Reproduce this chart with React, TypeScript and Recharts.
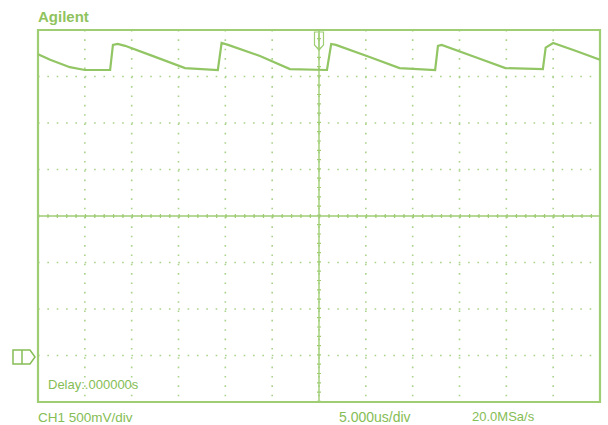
import React from "react";
import { LineChart, Line, XAxis, YAxis, CartesianGrid, ReferenceLine, ReferenceArea } from "recharts";

// Sample times in microseconds (12 divisions x 5 us/div)
const timeUs = [
  0, 1.3, 3.4, 5.0, 7.7, 8.0, 8.5, 9.3, 12.0, 15.7, 19.2, 19.6, 20.3, 23.7, 26.9,
  30.85, 31.3, 31.8, 35.4, 38.6, 42.4, 42.7, 43.1, 46.65, 49.9, 53.9, 54.2, 55.0, 57.3, 60,
];
// Channel 1 voltage relative to the ground marker (V)
const ch1Volts = [
  3.24, 3.18, 3.1, 3.07, 3.07, 3.34, 3.35, 3.33, 3.23, 3.09, 3.07, 3.36, 3.34, 3.22, 3.08,
  3.07, 3.35, 3.34, 3.21, 3.09, 3.07, 3.33, 3.34, 3.21, 3.09, 3.08, 3.31, 3.36, 3.28, 3.18,
];
// Division boundaries
const timeTicks = [0, 5, 10, 15, 20, 25, 30, 35, 40, 45, 50, 55, 60];
const voltTicks = [-0.5, 0, 0.5, 1, 1.5, 2, 2.5, 3, 3.5];

const header = "Agilent";
const delayText = "Delay:.000000s";
const chText = "CH1 500mV/div";
const timeBaseText = "5.000us/div";
const sampleRateText = "20.0MSa/s";

const data = timeUs.map((t, i) => ({ t, v: ch1Volts[i] }));

const FRAME = "#9fcd74";
const TRACE = "#92c564";
const GRID = "#a9d28a";
const TEXT = "#86bd55";

export default function App() {
  const textStyle: React.CSSProperties = {
    position: "absolute",
    color: TEXT,
    fontFamily: "'Liberation Sans', Arial, sans-serif",
    fontSize: 12,
    lineHeight: "14px",
    whiteSpace: "nowrap",
  };
  return (
    <div style={{ position: "absolute", left: 0, top: 0, width: 608, height: 425, background: "#fff", overflow: "hidden" }}>
      <LineChart width={608} height={425} data={data} margin={{ top: 30, right: 8, bottom: 23, left: 38 }}>
        <XAxis type="number" dataKey="t" domain={[0, 60]} ticks={timeTicks} hide />
        <YAxis type="number" domain={[-0.5, 3.5]} ticks={voltTicks} hide />
        <CartesianGrid stroke={GRID} strokeWidth={1.6} strokeDasharray="1.6 7.75" />
        <ReferenceLine x={30} stroke={FRAME} strokeWidth={1.4} />
        <ReferenceLine x={30} stroke={FRAME} strokeWidth={4} strokeDasharray="1.2 8.1" />
        <ReferenceLine y={1.5} stroke={FRAME} strokeWidth={1.4} />
        <ReferenceLine y={1.5} stroke={FRAME} strokeWidth={4} strokeDasharray="1.2 8.17" />
        <ReferenceArea x1={0} x2={60} y1={-0.5} y2={3.5} fill="none" stroke={FRAME} strokeWidth={2.2} />
        <Line
          type="linear"
          dataKey="v"
          stroke={TRACE}
          strokeWidth={2.2}
          dot={false}
          isAnimationActive={false}
        />
      </LineChart>

      {/* trigger position and ground level markers */}
      <svg width={608} height={425} style={{ position: "absolute", left: 0, top: 0, pointerEvents: "none" }}>
        <polygon points="314.5,32 323.5,32 323.5,45 319,50 314.5,45" fill="none" stroke={FRAME} strokeWidth={1.2} />
        <line x1={319} y1={33} x2={319} y2={47} stroke={FRAME} strokeWidth={1.2} />
        <polygon points="13,350 30,350 35,357 30,364 13,364" fill="none" stroke={TEXT} strokeWidth={1.5} />
        <line x1={22} y1={350} x2={22} y2={364} stroke={TEXT} strokeWidth={1.5} />
      </svg>

      <div style={{ ...textStyle, left: 38, top: 10, fontSize: 15, fontWeight: 700, color: "#8fc35e" }}>{header}</div>
      <div style={{ ...textStyle, left: 48, top: 378, fontSize: 13 }}>{delayText}</div>
      <div style={{ ...textStyle, left: 38, top: 411, fontSize: 13.5 }}>{chText}</div>
      <div style={{ ...textStyle, left: 339, top: 410, fontSize: 14 }}>{timeBaseText}</div>
      <div style={{ ...textStyle, left: 472, top: 410, fontSize: 13 }}>{sampleRateText}</div>
    </div>
  );
}
